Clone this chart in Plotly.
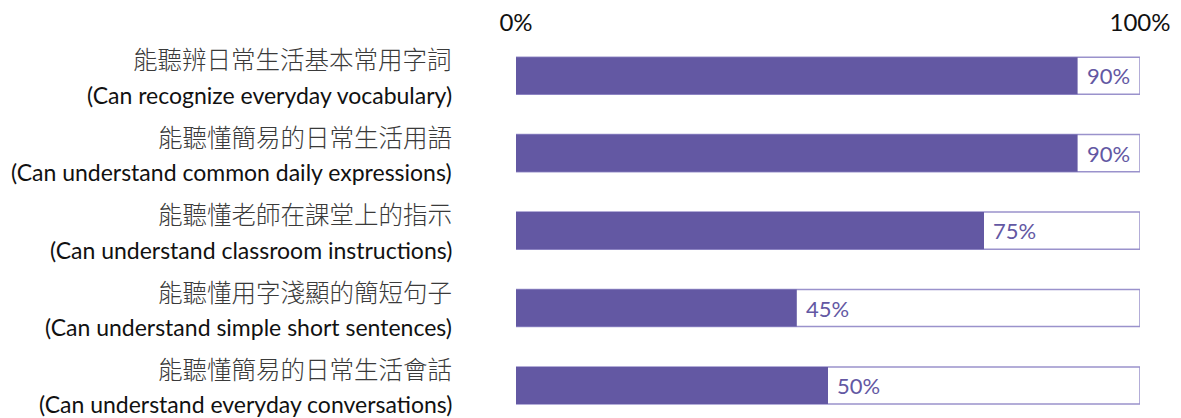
import plotly.graph_objects as go

labels_zh = ["能聽辨日常生活基本常用字詞", "能聽懂簡易的日常生活用語", "能聽懂老師在課堂上的指示",
             "能聽懂用字淺顯的簡短句子", "能聽懂簡易的日常生活會話"]
labels_en = ["(Can recognize everyday vocabulary)", "(Can understand common daily expressions)",
             "(Can understand classroom instructions)", "(Can understand simple short sentences)",
             "(Can understand everyday conversations)"]
values = [90, 90, 75, 45, 50]
full = [100, 100, 100, 100, 100]
tick_vals = [0, 100]
tick_text = ["0%", "100%"]

cats = labels_en
FILL = "#6358a3"
EDGE = "#9a92cc"

fig = go.Figure()
fig.add_trace(go.Bar(x=full, y=cats, orientation="h", width=0.48,
                     marker=dict(color="white", line=dict(color=EDGE, width=1.5)),
                     hoverinfo="skip", showlegend=False))
fig.add_trace(go.Bar(x=values, y=cats, orientation="h", width=0.48,
                     marker=dict(color=FILL, line=dict(color=FILL, width=0)),
                     showlegend=False))

ann = []
for zh, en, v in zip(labels_zh, labels_en, values):
    ann.append(dict(x=0, xref="paper", y=en, yref="y", xanchor="right", yanchor="middle",
                    xshift=-62, yshift=17, text=zh, showarrow=False,
                    font=dict(family="Noto Sans CJK TC", size=24.5, color="#3a3a3a", weight=300)))
    ann.append(dict(x=0, xref="paper", y=en, yref="y", xanchor="right", yanchor="middle",
                    xshift=-62, yshift=-19, text=en, showarrow=False,
                    font=dict(family="Lato", size=23, color="#111111")))
    ann.append(dict(x=v, xref="x", y=en, yref="y", xanchor="left", yanchor="middle",
                    xshift=7, text=f"{v}%", showarrow=False,
                    font=dict(family="Lato", size=22, color=FILL)))

fig.update_layout(
    width=1181, height=418,
    margin=dict(l=508, r=49, t=29, b=8),
    barmode="overlay",
    plot_bgcolor="white", paper_bgcolor="white",
    annotations=ann,
    xaxis=dict(range=[0, 100], side="top", tickvals=tick_vals, ticktext=tick_text,
               showgrid=False, zeroline=False, showline=False, ticks="", automargin=False,
               tickfont=dict(family="Lato", size=24, color="#111111")),
    yaxis=dict(categoryorder="array", categoryarray=cats, range=[4.42, -0.5], automargin=False,
               showticklabels=False, showgrid=False, zeroline=False, showline=False),
)
fig.write_html("out.html")
